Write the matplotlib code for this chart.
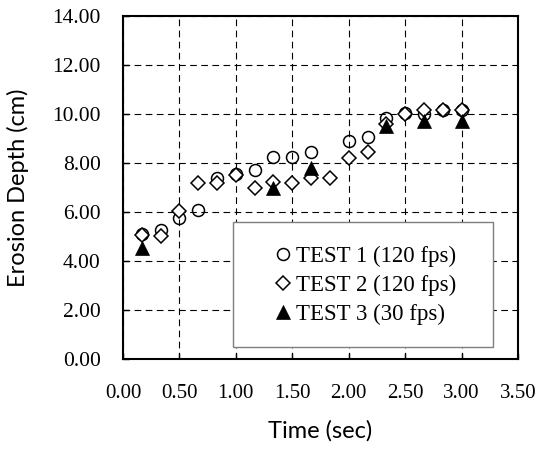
import matplotlib
matplotlib.use("Agg")
import matplotlib.pyplot as plt
from matplotlib.patches import Rectangle

# data
t1_time = [0.167, 0.333, 0.5, 0.667, 0.833, 1.0, 1.167, 1.333, 1.5, 1.667,
           2.0, 2.167, 2.333, 2.5, 2.667, 2.833, 3.0]
t1_depth = [5.12, 5.28, 5.74, 6.07, 7.40, 7.55, 7.72, 8.23, 8.23, 8.47,
            8.88, 9.05, 9.82, 10.05, 10.02, 10.18, 10.18]

t2_time = [0.167, 0.333, 0.5, 0.667, 0.833, 1.0, 1.167, 1.333, 1.5, 1.667,
           1.833, 2.0, 2.167, 2.333, 2.5, 2.667, 2.833, 3.0]
t2_depth = [5.06, 5.03, 6.05, 7.20, 7.17, 7.51, 6.99, 7.21, 7.20, 7.37,
            7.37, 8.19, 8.46, 9.60, 10.00, 10.16, 10.16, 10.16]

t3_time = [0.167, 1.333, 1.667, 2.333, 2.667, 3.0]
t3_depth = [4.52, 6.98, 7.80, 9.50, 9.70, 9.70]

labels = ["TEST 1 (120 fps)", "TEST 2 (120 fps)", "TEST 3 (30 fps)"]
xticks = [0.0, 0.5, 1.0, 1.5, 2.0, 2.5, 3.0, 3.5]
yticks = [0, 2, 4, 6, 8, 10, 12, 14]

serif = "Liberation Serif"
sans = "Lato"

fig = plt.figure(figsize=(5.42, 4.5), dpi=100)
ax = fig.add_axes([0.2269, 0.2022, 0.7288, 0.7622])

ax.plot(t1_time, t1_depth, "o", ms=8.6, mfc="none", mec="black", mew=1.1,
        label=labels[0], zorder=3)
ax.plot(t2_time, t2_depth, "D", ms=7.2, mfc="white", mec="black", mew=1.1,
        label=labels[1], zorder=4)
ax.plot(t3_time, t3_depth, "^", ms=10.5, mfc="black", mec="black", mew=0.5,
        label=labels[2], zorder=5)

ax.set_xlim(0, 3.5)
ax.set_ylim(0, 14)
ax.set_xticks(xticks)
ax.set_yticks(yticks)
ax.set_xticklabels([f"{v:.2f}" for v in xticks], fontfamily=serif, fontsize=15)
ax.set_yticklabels([f"{v:.2f}" for v in yticks], fontfamily=serif, fontsize=15.5)
ax.tick_params(axis="x", direction="in", length=4, width=1, pad=18)
ax.tick_params(axis="y", direction="in", length=4, width=1, pad=16)

ax.grid(True, color="black", linestyle=(0, (6, 4)), linewidth=0.8)
ax.set_axisbelow(True)
for sp in ax.spines.values():
    sp.set_linewidth(1.5)

ax.set_xlabel("Time (sec)", fontfamily=sans, fontsize=17)
ax.set_ylabel("Erosion Depth (cm)", fontfamily=sans, fontsize=17)
ax.xaxis.set_label_coords(0.5, -0.178)
ax.yaxis.set_label_coords(-0.238, 0.5)

# legend frame
ax.add_patch(Rectangle((0.278, 0.035), 0.659, 0.364, transform=ax.transAxes,
                       facecolor="white", edgecolor="#7f7f7f", linewidth=1,
                       zorder=2.5))
leg = ax.legend(loc="center", bbox_to_anchor=(0.61, 0.214), frameon=False,
                prop={"family": serif, "size": 16.5}, handletextpad=0.1,
                handlelength=1.0, labelspacing=0.35)
leg.set_zorder(6)

fig.savefig("out.png", dpi=100)
